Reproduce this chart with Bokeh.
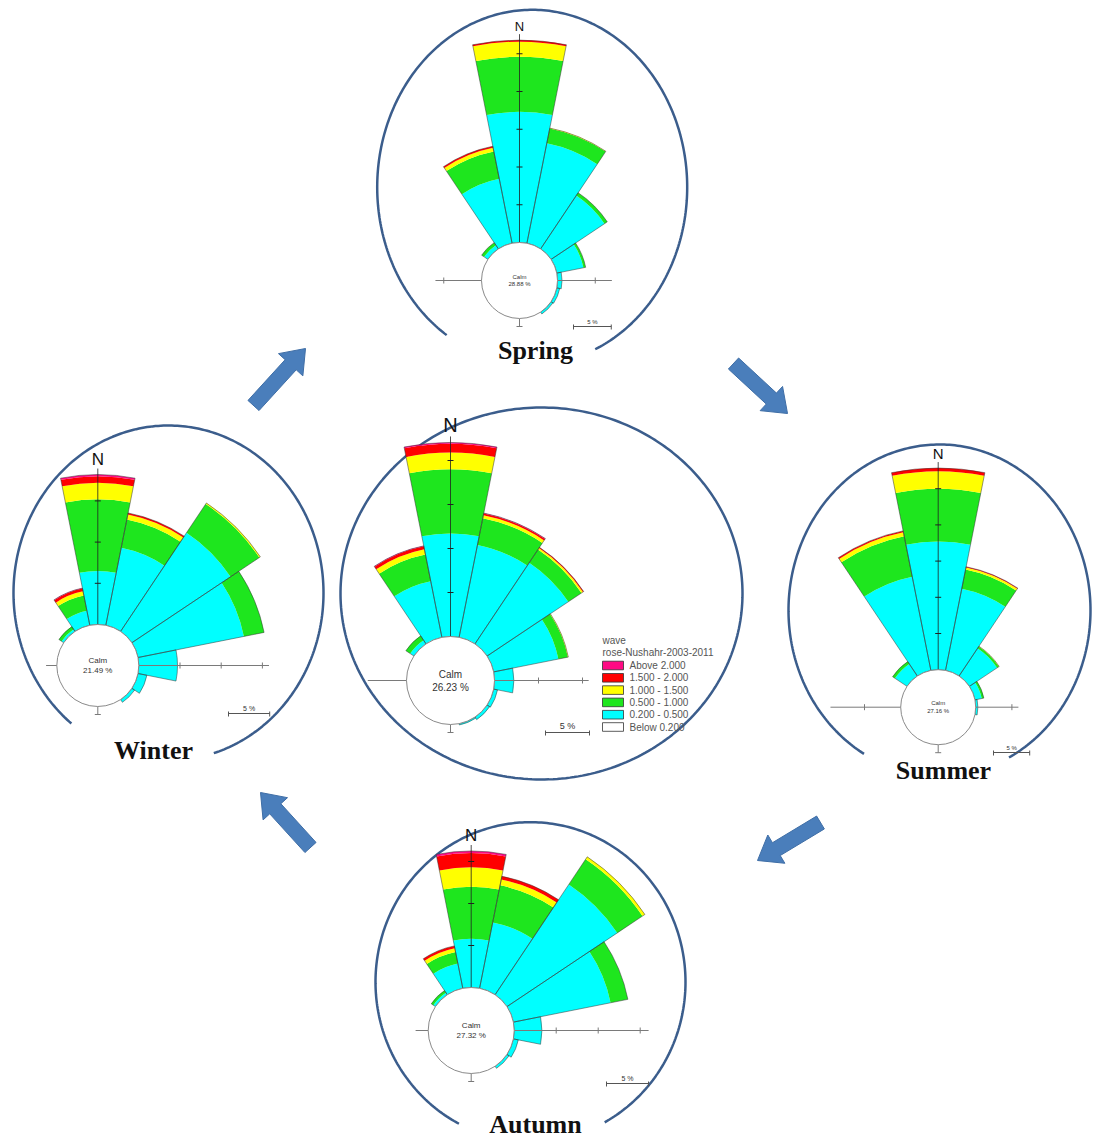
import numpy as np
from bokeh.plotting import figure
from bokeh.models import Range1d
from bokeh.core.properties import value
from bokeh.embed import file_html
from bokeh.resources import INLINE

# ---------------- data ----------------
DIRECTIONS = ["N", "NNE", "NE", "ENE", "E", "ESE", "SE", "SSE",
              "S", "SSW", "SW", "WSW", "W", "WNW", "NW", "NNW"]
BEARINGS = [0, 22.5, 45, 67.5, 90, 112.5, 135, 157.5,
            180, 202.5, 225, 247.5, 270, 292.5, 315, 337.5]
SPEED_CLASSES = ["0.200 - 0.500", "0.500 - 1.000", "1.000 - 1.500", "1.500 - 2.000", "Above  2.000"]
CLASS_COLORS = ["#00ffff", "#1ee61e", "#ffff00", "#ff0000", "#ff0a84"]
LEGEND_LABELS = ["Above  2.000", "1.500 - 2.000", "1.000 - 1.500", "0.500 - 1.000", "0.200 - 0.500", "Below  0.200"]
LEGEND_COLORS = ["#ff0a84", "#ff0000", "#ffff00", "#1ee61e", "#00ffff", "#ffffff"]
LEGEND_TITLE = ["wave", "rose-Nushahr-2003-2011"]

# frequency (%) per direction, one list per wave-height class
annual_c1 = [11.7, 10.7, 11.1, 7.5, 2.2, 0.45, 0.35, 0.15, 0, 0, 0, 0, 0, 0, 0.5, 6.5]
annual_c2 = [7.3, 3.1, 1.8, 1.1, 0, 0, 0, 0, 0, 0, 0, 0, 0, 0, 0.6, 3.1]
annual_c3 = [1.9, 0.35, 0.2, 0.05, 0, 0, 0, 0, 0, 0, 0, 0, 0, 0, 0, 0.6]
annual_c4 = [1.0, 0.2, 0.1, 0, 0, 0, 0, 0, 0, 0, 0, 0, 0, 0, 0, 0.35]
annual_c5 = [0.15, 0.05, 0, 0, 0, 0, 0, 0, 0, 0, 0, 0, 0, 0, 0, 0.05]

spring_c1 = [17.3, 13.5, 8.5, 3.6, 0.6, 0.4, 0.3, 0, 0, 0, 0, 0, 0, 0, 0.6, 8.7]
spring_c2 = [7.3, 2.0, 0.45, 0.3, 0, 0, 0, 0, 0, 0, 0, 0, 0, 0, 0.4, 3.7]
spring_c3 = [2.0, 0.05, 0, 0, 0, 0, 0, 0, 0, 0, 0, 0, 0, 0, 0, 0.5]
spring_c4 = [0.2, 0, 0, 0, 0, 0, 0, 0, 0, 0, 0, 0, 0, 0, 0, 0.2]
spring_c5 = [0] * 16

summer_c1 = [17.7, 11.5, 4.6, 0.95, 0.3, 0, 0, 0, 0, 0, 0, 0, 0, 0, 2.0, 13.2]
summer_c2 = [7.3, 2.7, 0.3, 0.3, 0, 0, 0, 0, 0, 0, 0, 0, 0, 0, 0.4, 5.7]
summer_c3 = [2.4, 0.3, 0.05, 0, 0, 0, 0, 0, 0, 0, 0, 0, 0, 0, 0, 0.55]
summer_c4 = [0.45, 0.1, 0, 0, 0, 0, 0, 0, 0, 0, 0, 0, 0, 0, 0, 0.2]
summer_c5 = [0] * 16

autumn_c1 = [5.8, 8.0, 15.8, 11.8, 3.3, 0.6, 0.3, 0, 0, 0, 0, 0, 0, 0, 0.3, 3.0]
autumn_c2 = [6.2, 4.5, 3.6, 2.1, 0, 0, 0, 0, 0, 0, 0, 0, 0, 0, 0.3, 1.4]
autumn_c3 = [2.3, 0.7, 0.35, 0, 0, 0, 0, 0, 0, 0, 0, 0, 0, 0, 0, 0.45]
autumn_c4 = [1.7, 0.4, 0, 0, 0, 0, 0, 0, 0, 0, 0, 0, 0, 0, 0, 0.3]
autumn_c5 = [0.25, 0, 0, 0, 0, 0, 0, 0, 0, 0, 0, 0, 0, 0, 0, 0]

winter_c1 = [6.5, 9.6, 14.4, 13.1, 4.7, 1.1, 0.4, 0, 0, 0, 0, 0, 0, 0, 0.3, 1.8]
winter_c2 = [8.7, 3.5, 4.2, 2.5, 0, 0, 0, 0, 0, 0, 0, 0, 0, 0, 0.4, 1.9]
winter_c3 = [2.0, 0.6, 0.15, 0, 0, 0, 0, 0, 0, 0, 0, 0, 0, 0, 0, 0.5]
winter_c4 = [0.8, 0.2, 0, 0, 0, 0, 0, 0, 0, 0, 0, 0, 0, 0, 0, 0.35]
winter_c5 = [0.2, 0, 0, 0, 0, 0, 0, 0, 0, 0, 0, 0, 0, 0, 0, 0.05]

CALM_PCT = {"annual": 26.23, "spring": 28.88, "summer": 27.16, "autumn": 27.32, "winter": 21.49}
SEASON_LABELS = {"spring": "Spring", "summer": "Summer", "autumn": "Autumn", "winter": "Winter"}

# ---------------- layout (page pixel coordinates) ----------------
IMG_W, IMG_H = 1093, 1140
def Y(yi):
    return IMG_H - yi

ROSES = {
    "annual": dict(layers=[annual_c1, annual_c2, annual_c3, annual_c4, annual_c5],
                   cx=450, cy=680, r0=44, s=8.8, nfont=20, cfont=10, haxis=(4.4, 10.7),
                   bar=(545, 732), barfont=9),
    "spring": dict(layers=[spring_c1, spring_c2, spring_c3, spring_c4, spring_c5],
                   cx=519, cy=280, r0=38, s=7.55, nfont=13, cfont=6, haxis=(6.1, 7.2),
                   bar=(573, 326), barfont=6),
    "summer": dict(layers=[summer_c1, summer_c2, summer_c3, summer_c4, summer_c5],
                   cx=937.7, cy=706.7, r0=37.5, s=7.24, nfont=15, cfont=6, haxis=(9.7, 5.9),
                   bar=(993, 752), barfont=6),
    "autumn": dict(layers=[autumn_c1, autumn_c2, autumn_c3, autumn_c4, autumn_c5],
                   cx=470.7, cy=1030, r0=43, s=8.4, nfont=17, cfont=8, haxis=(1.5, 16.0),
                   bar=(606, 1083), barfont=7),
    "winter": dict(layers=[winter_c1, winter_c2, winter_c3, winter_c4, winter_c5],
                   cx=97.3, cy=665, r0=41, s=8.24, nfont=17, cfont=8, haxis=(1.3, 15.8),
                   bar=(228, 713), barfont=7),
}

FRAMES = {  # ellipse cx, cy, rx, ry, start angle, end angle (deg, ccw)
    "annual": (541, 593, 201, 186, 0, 360),
    "spring": (531.7, 186.7, 155, 177.4, -66, 236.5),
    "summer": (939, 609.8, 151, 165.8, -62.6, 240),
    "autumn": (530, 981.5, 155, 159.8, -61.4, 242.5),
    "winter": (168, 592.5, 155, 167.5, -73, 231.2),
}
LABEL_POS = {"spring": (535, 350), "summer": (943, 770), "autumn": (535, 1124), "winter": (153, 750)}
ARROWS = [((253, 405), (305, 348)), ((733, 363), (787, 413)),
          ((820, 822), (757, 860)), ((310, 847), (260, 792))]

FRAME_COLOR = "#3b5d8c"
ARROW_COLOR = "#4a7ebb"
AXIS_COLOR = "#7a7a7a"

p = figure(width=IMG_W, height=IMG_H, x_range=Range1d(0, IMG_W), y_range=Range1d(0, IMG_H),
           output_backend="svg", toolbar_location=None, x_axis_type=None, y_axis_type=None,
           min_border=0)
p.grid.visible = False
p.outline_line_color = None
p.background_fill_color = "white"
p.border_fill_color = "white"

SANS = value("Liberation Sans")
SERIF = value("Liberation Serif")

# frames
for key, (fx, fy, rx, ry, t0, t1) in FRAMES.items():
    t = np.radians(np.linspace(t0, t1, 300))
    p.line(fx + rx * np.cos(t), Y(fy) + ry * np.sin(t), line_color=FRAME_COLOR, line_width=2.5)

# arrows
def block_arrow(tail, tip, w=15.0, hw=33.0, hl=22.0):
    x0, y0 = tail[0], Y(tail[1])
    x1, y1 = tip[0], Y(tip[1])
    dx, dy = x1 - x0, y1 - y0
    L = np.hypot(dx, dy)
    ux, uy = dx / L, dy / L
    nx, ny = -uy, ux
    bx, by = x1 - ux * hl, y1 - uy * hl
    xs = [x0 + nx * w / 2, bx + nx * w / 2, bx + nx * hw / 2, x1, bx - nx * hw / 2, bx - nx * w / 2, x0 - nx * w / 2]
    ys = [y0 + ny * w / 2, by + ny * w / 2, by + ny * hw / 2, y1, by - ny * hw / 2, by - ny * w / 2, y0 - ny * w / 2]
    return xs, ys

for tail, tip in ARROWS:
    xs, ys = block_arrow(tail, tip)
    p.patch(xs, ys, fill_color=ARROW_COLOR, line_color="#3f6ea6", line_width=1)

# roses
bear = np.array(BEARINGS, dtype=float)
start_ang = np.radians(90 - bear - 11.25)
end_ang = np.radians(90 - bear + 11.25)

def draw_rose(key):
    cfg = ROSES[key]
    cx, cy = cfg["cx"], Y(cfg["cy"])
    r0, s = cfg["r0"], cfg["s"]
    cum = np.zeros(16)
    for k, vals in enumerate(cfg["layers"]):
        v = np.array(vals, dtype=float)
        m = v > 0
        if m.any():
            p.annular_wedge(x=cx, y=cy, inner_radius=(r0 + s * cum)[m], outer_radius=(r0 + s * (cum + v))[m],
                            start_angle=start_ang[m], end_angle=end_ang[m],
                            fill_color=CLASS_COLORS[k], line_color=None)
        cum = cum + v
    m = cum > 0
    p.annular_wedge(x=cx, y=cy, inner_radius=r0, outer_radius=(r0 + s * cum)[m],
                    start_angle=start_ang[m], end_angle=end_ang[m],
                    fill_color=None, line_color="#333333", line_width=0.6, line_alpha=0.85)
    # horizontal axis
    L, R = cfg["haxis"]
    p.segment(x0=cx - (r0 + s * L), y0=cy, x1=cx + (r0 + s * R), y1=cy, line_color=AXIS_COLOR, line_width=1)
    tx = []
    for side, ext in ((-1, L), (1, R)):
        k = 5
        while k <= ext:
            tx.append(cx + side * (r0 + s * k))
            k += 5
    if tx:
        p.segment(x0=tx, y0=cy - 3, x1=tx, y1=cy + 3, line_color=AXIS_COLOR, line_width=1)
    # north axis
    nmax = cum[0]
    p.segment(x0=cx, y0=cy + r0, x1=cx, y1=cy + r0 + s * nmax + 6, line_color="#222222", line_width=0.8)
    ty = []
    k = 5
    while k <= nmax:
        ty.append(cy + r0 + s * k)
        k += 5
    if ty:
        p.segment(x0=cx - 3, y0=ty, x1=cx + 3, y1=ty, line_color="#222222", line_width=1)
    p.text(x=[cx], y=[cy + r0 + s * nmax + 6], text=["N"], text_font=SANS,
           text_font_size=value(f"{cfg['nfont']}px"), text_align="center", text_baseline="bottom",
           text_color="#111111")
    # south stub
    p.segment(x0=cx, y0=cy - r0, x1=cx, y1=cy - r0 - 8, line_color=AXIS_COLOR, line_width=1)
    p.segment(x0=cx - 3, y0=cy - r0 - 8, x1=cx + 3, y1=cy - r0 - 8, line_color=AXIS_COLOR, line_width=1)
    # calm circle
    p.circle(x=cx, y=cy, radius=r0, fill_color="white", line_color="#8a8a8a", line_width=1)
    fs = cfg["cfont"]
    p.text(x=[cx, cx], y=[cy + fs * 0.65, cy - fs * 0.65], text=["Calm", f"{CALM_PCT[key]:.2f} %"],
           text_font=SANS, text_font_size=value(f"{fs}px"), text_align="center",
           text_baseline="middle", text_color="#333333")
    # scale bar
    bx, by = cfg["bar"]
    by = Y(by)
    p.segment(x0=bx, y0=by, x1=bx + 5 * s, y1=by, line_color="#555555", line_width=1)
    p.segment(x0=[bx, bx + 5 * s], y0=by - 3, x1=[bx, bx + 5 * s], y1=by + 2, line_color="#555555", line_width=1)
    p.text(x=[bx + 2.5 * s], y=[by + 1.5], text=["5 %"], text_font=SANS,
           text_font_size=value(f"{cfg['barfont']}px"), text_align="center", text_baseline="bottom",
           text_color="#333333")

for key in ROSES:
    draw_rose(key)

# legend (centre rose)
lx, ly0, dy = 602, 665, 12.3
for i, (lab, col) in enumerate(zip(LEGEND_LABELS, LEGEND_COLORS)):
    yc = Y(ly0 + i * dy)
    p.quad(left=lx, right=lx + 21, bottom=yc - 4.3, top=yc + 4.3, fill_color=col, line_color="#333333", line_width=0.8)
    p.text(x=[lx + 27], y=[yc], text=[lab], text_font=SANS, text_font_size=value("10px"),
           text_baseline="middle", text_color="#555555")
p.text(x=[lx, lx], y=[Y(640), Y(652)], text=LEGEND_TITLE, text_font=SANS, text_font_size=value("10px"),
       text_baseline="middle", text_color="#555555")

# season labels
for key, (lxp, lyp) in LABEL_POS.items():
    p.text(x=[lxp], y=[Y(lyp)], text=[SEASON_LABELS[key]], text_font=SERIF, text_font_style="bold",
           text_font_size=value("26px"), text_align="center", text_baseline="middle", text_color="#111111")

open("out.html", "w").write(file_html(p, INLINE))
